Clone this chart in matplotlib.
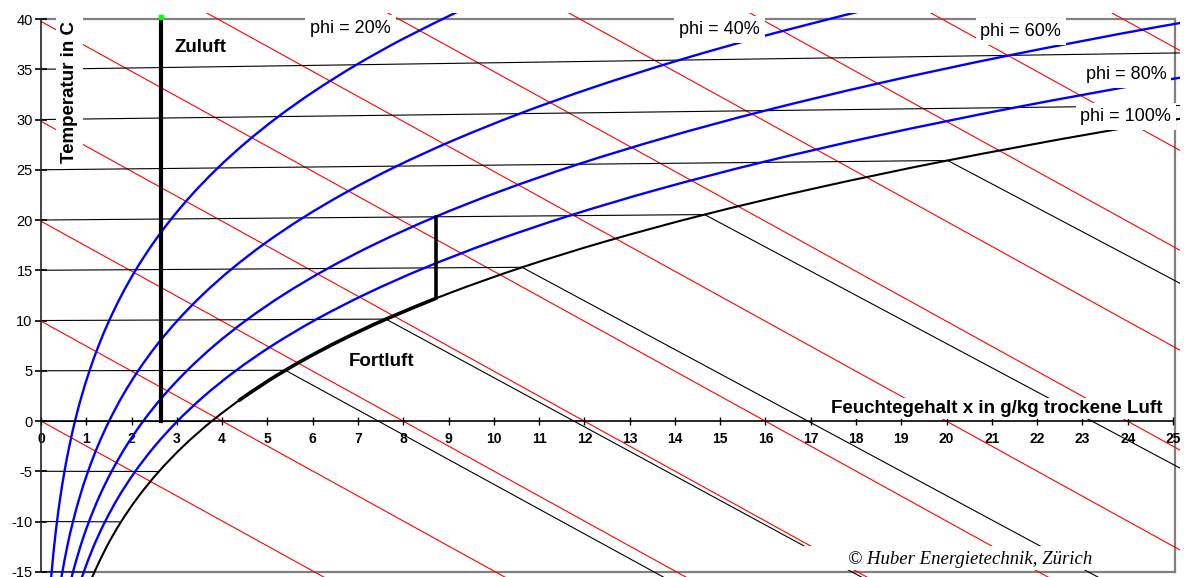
import numpy as np
import matplotlib.pyplot as plt
from matplotlib.patches import Rectangle, PathPatch
from matplotlib.path import Path

plt.rcParams['font.family'] = ['Liberation Sans', 'DejaVu Sans']
plt.rcParams['axes.unicode_minus'] = False

# Temperatures at which the humidity curves are tabulated (deg C)
t_grid = [-16, -15, -12.5, -10, -7.5, -5, -2.5, 0, 2.5, 5, 7.5, 10, 12.5, 15,
          17.5, 20, 22.5, 25, 27.5, 30, 32.5, 35, 37.5, 40]

# Water content x (g/kg) along the lines of constant relative humidity
x_phi20 = [0.217, 0.236, 0.289, 0.353, 0.429, 0.519, 0.626, 0.751, 0.899, 1.072,
           1.274, 1.509, 1.781, 2.096, 2.460, 2.877, 3.356, 3.904, 4.530, 5.241,
           6.051, 6.968, 8.007, 9.180]
x_phi40 = [0.434, 0.472, 0.578, 0.706, 0.858, 1.039, 1.252, 1.505, 1.801, 2.148,
           2.553, 3.025, 3.573, 4.207, 4.939, 5.781, 6.748, 7.857, 9.126, 10.572,
           12.221, 14.093, 16.222, 18.634]
x_phi60 = [0.651, 0.707, 0.867, 1.059, 1.287, 1.559, 1.880, 2.259, 2.705, 3.228,
           3.838, 4.549, 5.374, 6.331, 7.437, 8.711, 10.178, 11.861, 13.791, 15.994,
           18.512, 21.383, 24.654, 28.376]
x_phi80 = [0.869, 0.944, 1.157, 1.413, 1.717, 2.081, 2.510, 3.016, 3.612, 4.311,
           5.128, 6.080, 7.187, 8.471, 9.956, 11.670, 13.644, 15.916, 18.525, 21.510,
           24.931, 28.841, np.nan, np.nan]
x_phi100 = [1.086, 1.180, 1.447, 1.767, 2.149, 2.603, 3.140, 3.775, 4.522, 5.398,
            6.423, 7.618, 9.010, 10.625, 12.495, 14.656, 17.150, 20.023, 23.329, 27.122,
            31.479, 36.474, np.nan, np.nan]

phi_labels = ['phi = 20%', 'phi = 40%', 'phi = 60%', 'phi = 80%', 'phi = 100%']

# Isotherms (deg C), drawn from the temperature axis up to saturation
isotherms = [-15, -10, -5, 0, 5, 10, 15, 20, 25, 30, 35]
# Isotherms continued into the fog region
fog_isotherms = [5, 10, 15, 20, 25]
# Lines of constant enthalpy (kJ/kg)
enthalpies = [0, 10, 20, 30, 40, 50, 60, 70, 80, 90, 100]

# Supply air heated at constant water content
zuluft_x = 2.65
zuluft_t = [0, 40]
# Exhaust air 20 C / 60 %, cooled to dew point, then along saturation down to 2 C
fortluft_t = [20, 12, 10, 8, 6, 4, 2]
fortluft_x = [8.715, 8.715, 7.618, 6.648, 5.789, 5.030, 4.362]

x_ticks = list(range(0, 26))
y_ticks = list(range(-15, 45, 5))


def skew(t, x):
    # ordinate of the h,x chart: (h - r0*x) / cp_air, reads as deg C on the axis
    return np.asarray(t, dtype=float) * (1 + 1.86 * np.asarray(x, dtype=float) / 1006.0)


def smooth_line(ax, x, y, **kw):
    # smoothed line through the points (Catmull-Rom segments as cubic Beziers)
    pts = np.column_stack([x, y])
    pts = pts[~np.isnan(pts).any(axis=1)]
    verts = [pts[0]]
    codes = [Path.MOVETO]
    n = len(pts)
    for i in range(n - 1):
        p0 = pts[max(i - 1, 0)]
        p1, p2 = pts[i], pts[i + 1]
        p3 = pts[min(i + 2, n - 1)]
        verts += [p1 + (p2 - p0) / 6, p2 - (p3 - p1) / 6, p2]
        codes += [Path.CURVE4] * 3
    patch = PathPatch(Path(verts, codes), facecolor='none', **kw)
    ax.add_patch(patch)
    return patch


fig = plt.figure(figsize=(11.84, 5.77), dpi=100)
ax = fig.add_axes([41 / 1184, 0, 1139 / 1184, 564 / 577])
ax.set_xlim(0, 1139 / 45.28)
ax.set_ylim(-15.52, 40.6)

t_arr = np.array(t_grid)
idx = {t: i for i, t in enumerate(t_grid)}

# enthalpy lines
xs = np.array([0, 27])
for h in enthalpies:
    ax.plot(xs, (h - 2.501 * xs) / 1.006, color='red', lw=0.8, zorder=2)

# isotherms up to the saturation line
for t in isotherms:
    x_end = x_phi100[idx[t]]
    ax.plot([0, x_end], [t, skew(t, x_end)], color='black', lw=0.8, zorder=2)

# fog isotherms (liquid water region)
for t in fog_isotherms:
    x0 = x_phi100[idx[t]]
    y0 = skew(t, x0)
    slope = (4.19 * t / 1000 - 2.501) / 1.006
    ax.plot([x0, x0 + 30], [y0, y0 + slope * 30], color='black', lw=0.8, zorder=2)

# relative humidity curves
for xc in [x_phi20, x_phi40, x_phi60, x_phi80]:
    xc = np.array(xc)
    smooth_line(ax, xc, skew(t_arr, xc), edgecolor='#0000ff', lw=1.7, zorder=2.2)
sat = np.array(x_phi100)
smooth_line(ax, sat, skew(t_arr, sat), edgecolor='black', lw=1.5, zorder=2.2)

# plot area frame
xr = 25.04
ax.plot([0, xr], [40, 40], color='#808080', lw=1.6, zorder=1.5)
ax.plot([0, xr], [-15, -15], color='#808080', lw=1.6, zorder=1.5)
ax.plot([xr, xr], [-15, 40], color='#808080', lw=1.6, zorder=1.5)

# process lines
ax.plot([zuluft_x, zuluft_x], skew(zuluft_t, zuluft_x), color='black', lw=3.0, zorder=3)
ax.plot(zuluft_x, skew(zuluft_t[-1], zuluft_x), marker='s', ms=3, color='#00ff00',
        mec='#00ff00', zorder=6)
fx = np.array(fortluft_x)
fy = skew(fortluft_t, fx)
ax.plot(fx[:2], fy[:2], color='black', lw=2.6, zorder=3, solid_capstyle='projecting')
smooth_line(ax, fx[1:], fy[1:], edgecolor='black', lw=2.6, zorder=3)

# axes crossing at zero
for s in ['top', 'right']:
    ax.spines[s].set_visible(False)
ax.spines['bottom'].set_position(('data', 0))
ax.spines['left'].set_position(('data', 0))
ax.spines['bottom'].set_bounds(0, 25)
ax.spines['left'].set_bounds(-15, 40)
ax.spines['bottom'].set_linewidth(1.2)
ax.spines['left'].set_linewidth(1.2)
ax.spines['left'].set_color('#222222')

ax.set_xticks(x_ticks)
ax.set_xticklabels([str(v) for v in x_ticks], fontweight='bold', fontsize=10)
ax.set_yticks(y_ticks)
ax.set_yticklabels([str(v) for v in y_ticks], fontsize=10.5)
ax.tick_params(axis='x', direction='inout', length=6, width=1, pad=5)
ax.tick_params(axis='y', direction='inout', length=8, width=1.2, pad=2)

box = dict(facecolor='white', edgecolor='none', pad=3.5)
label_pos = [(6.83, 39.1), (14.99, 38.95), (21.64, 38.75), (23.96, 34.5), (23.96, 30.3)]
for txt, (lx, ly) in zip(phi_labels, label_pos):
    ax.text(lx, ly, txt, fontsize=13, ha='center', va='center', bbox=box, zorder=5)

ax.text(0.63, 32.75, 'Temperatur in C', rotation=90, fontsize=13.5, fontweight='bold',
        ha='center', va='center', bbox=box, zorder=5)
ax.text(3.53, 36.72, 'Zuluft', fontsize=13.5, fontweight='bold', ha='center',
        va='baseline', zorder=5)
ax.text(7.52, 5.47, 'Fortluft', fontsize=13.5, fontweight='bold', ha='center',
        va='baseline', zorder=5)
ax.text(21.1, 0.8, 'Feuchtegehalt x in g/kg trockene Luft', fontsize=13.5,
        fontweight='bold', ha='center', va='baseline',
        bbox=dict(facecolor='white', edgecolor='none', pad=1.5), zorder=5)

ax.add_patch(Rectangle((16.72, -14.86), 6.8, 2.42, facecolor='white', edgecolor='none',
                       zorder=2.5))
ax.text(20.53, -14.23, '\u00a9 Huber Energietechnik, Z\u00fcrich', fontsize=13.5,
        family=['Liberation Serif', 'DejaVu Serif'], style='italic', ha='center',
        va='baseline', zorder=5)

fig.savefig('out.png', dpi=100)
